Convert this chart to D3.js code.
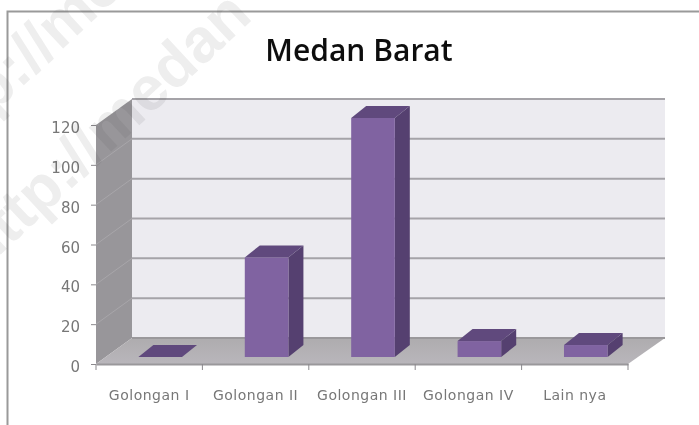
<!DOCTYPE html>
<html>
<head>
<meta charset="utf-8">
<script src="https://cdn.jsdelivr.net/npm/d3@7"></script>
<style>
body { margin: 0; background: #fff; }
svg { display: block; }
.tick text { font-family: "DejaVu Sans", sans-serif; }
</style>
</head>
<body>
<div id="chart"></div>
<script>
const categories = ["Golongan I", "Golongan II", "Golongan III", "Golongan IV", "Lain nya"];
const values = [0, 50, 120, 8, 6];
const yTicks = [0, 20, 40, 60, 80, 100, 120];

const width = 699, height = 425;
const x0 = 96, x1 = 628, yBase = 364, yTop = 125;
// wall and floor depth of the fake 3d box
const wallDx = 36, wallDy = -26;
// bars stand part way into the floor
const barInDx = 11, barInDy = -7, barDx = 15, barDy = -12;

const x = d3.scaleBand().domain(categories).range([x0, x1]).paddingInner(0.59).paddingOuter(0.295);
const y = d3.scaleLinear().domain([0, 120]).range([yBase, yTop]);

const page = d3.select("#chart").append("svg").attr("width", width).attr("height", height);

const defs = page.append("defs");
// the source is a soft low-res image
defs.append("filter").attr("id", "soft")
    .attr("filterUnits", "userSpaceOnUse")
    .attr("x", 0).attr("y", 0).attr("width", width).attr("height", height)
    .append("feGaussianBlur").attr("stdDeviation", 0.55);
const floorGrad = defs.append("linearGradient").attr("id", "floorGrad").attr("x1", 0).attr("x2", 0).attr("y1", 0).attr("y2", 1);
floorGrad.append("stop").attr("offset", 0).attr("stop-color", "#aeacae");
floorGrad.append("stop").attr("offset", 1).attr("stop-color", "#b9b6bb");

const svg = page.append("g").attr("filter", "url(#soft)");
svg.append("rect").attr("width", width).attr("height", height).attr("fill", "#fff");

// outer frame
svg.append("path")
    .attr("d", "M7.5,425V11.5H699")
    .attr("fill", "none")
    .attr("stroke", "#9a9a9a")
    .attr("stroke-width", 2);

svg.append("text")
    .attr("x", 359)
    .attr("y", 61)
    .attr("text-anchor", "middle")
    .attr("font-family", "Open Sans, sans-serif")
    .attr("font-weight", 600)
    .attr("font-size", 30)
    .attr("fill", "#111")
    .text("Medan Barat");

const poly = pts => pts.map(p => p.join(",")).join(" ");

// back wall, side wall, floor
svg.append("polygon")
    .attr("points", poly([[x0 + wallDx, yTop + wallDy], [x1 + wallDx + 1, yTop + wallDy], [x1 + wallDx + 1, yBase + wallDy], [x0 + wallDx, yBase + wallDy]]))
    .attr("fill", "#ecebf0");
svg.append("polygon")
    .attr("points", poly([[x0, yTop], [x0 + wallDx, yTop + wallDy], [x0 + wallDx, yBase + wallDy], [x0, yBase]]))
    .attr("fill", "#98969a");
svg.append("polygon")
    .attr("points", poly([[x0, yBase], [x0 + wallDx, yBase + wallDy], [x1 + wallDx + 1, yBase + wallDy], [x1, yBase]]))
    .attr("fill", "url(#floorGrad)");

// gridlines run along the back wall and down the side wall
const grid = svg.append("g");
grid.selectAll(".back").data(yTicks.slice(1))
    .join("line")
    .attr("x1", x0 + wallDx).attr("x2", x1 + wallDx + 1)
    .attr("y1", d => y(d) + wallDy).attr("y2", d => y(d) + wallDy)
    .attr("stroke", "#a5a3a8").attr("stroke-width", 2);
grid.selectAll(".side").data(yTicks.slice(1, -1))
    .join("line")
    .attr("x1", x0).attr("x2", x0 + wallDx)
    .attr("y1", d => y(d)).attr("y2", d => y(d) + wallDy)
    .attr("stroke", "#a8a6aa").attr("stroke-width", 1);
grid.append("line")
    .attr("x1", x0 + wallDx).attr("x2", x1 + wallDx + 1)
    .attr("y1", yBase + wallDy).attr("y2", yBase + wallDy)
    .attr("stroke", "#9a989b").attr("stroke-width", 2);

// bars: right side, top, then front
const bars = svg.append("g").selectAll("g")
    .data(categories.map((c, i) => ({ c, v: values[i] })))
    .join("g");

const barLeft = d => x(d.c) + barInDx;
const barRight = d => barLeft(d) + x.bandwidth();
const barBase = yBase + barInDy;
const barTop = d => y(d.v) + barInDy;

bars.append("polygon")
    .attr("points", d => poly([[barRight(d), barTop(d)], [barRight(d) + barDx, barTop(d) + barDy], [barRight(d) + barDx, barBase + barDy], [barRight(d), barBase]]))
    .attr("fill", "#54406f");
bars.append("polygon")
    .attr("points", d => poly([[barLeft(d), barTop(d)], [barLeft(d) + barDx, barTop(d) + barDy], [barRight(d) + barDx, barTop(d) + barDy], [barRight(d), barTop(d)]]))
    .attr("fill", "#604a7d");
bars.append("rect")
    .attr("x", barLeft)
    .attr("y", barTop)
    .attr("width", x.bandwidth())
    .attr("height", d => barBase - barTop(d))
    .attr("fill", "#8063a1");

// axes
const axisLeft = d3.axisLeft(y).tickValues(yTicks).tickSize(5).tickPadding(11);
const gy = svg.append("g").attr("transform", `translate(${x0},0)`).call(axisLeft);
gy.select(".domain").attr("stroke", "none");
gy.selectAll(".tick line").attr("stroke", "#8b898d");
gy.selectAll(".tick text").attr("font-size", 15).attr("dy", "0.5em").attr("fill", "#777");

const axisBottom = d3.axisBottom(x).tickSize(0).tickPadding(26);
const gx = svg.append("g").attr("transform", `translate(0,${yBase})`).call(axisBottom);
gx.select(".domain").attr("stroke", "#9a989b").attr("stroke-width", 2);
gx.selectAll(".tick text").attr("font-size", 14).attr("letter-spacing", 0.5).attr("fill", "#777");
gx.selectAll(".edge").data(categories.map(c => x(c) - x.step() * 0.295).concat(x1))
    .join("line")
    .attr("x1", d => d).attr("x2", d => d)
    .attr("y1", 0).attr("y2", 6)
    .attr("stroke", "#8b898d");

// watermark, two passes across the top left
const mark = svg.append("g").attr("opacity", 0.09).attr("fill", "#444")
    .attr("font-family", "Liberation Sans, sans-serif").attr("font-weight", "bold").attr("font-size", 62);
mark.append("text")
    .attr("transform", "translate(-18,272) rotate(-43)")
    .text("http://medan");
mark.append("text")
    .attr("transform", "translate(-66,169) rotate(-43)")
    .text("http://medan");
</script>
</body>
</html>
